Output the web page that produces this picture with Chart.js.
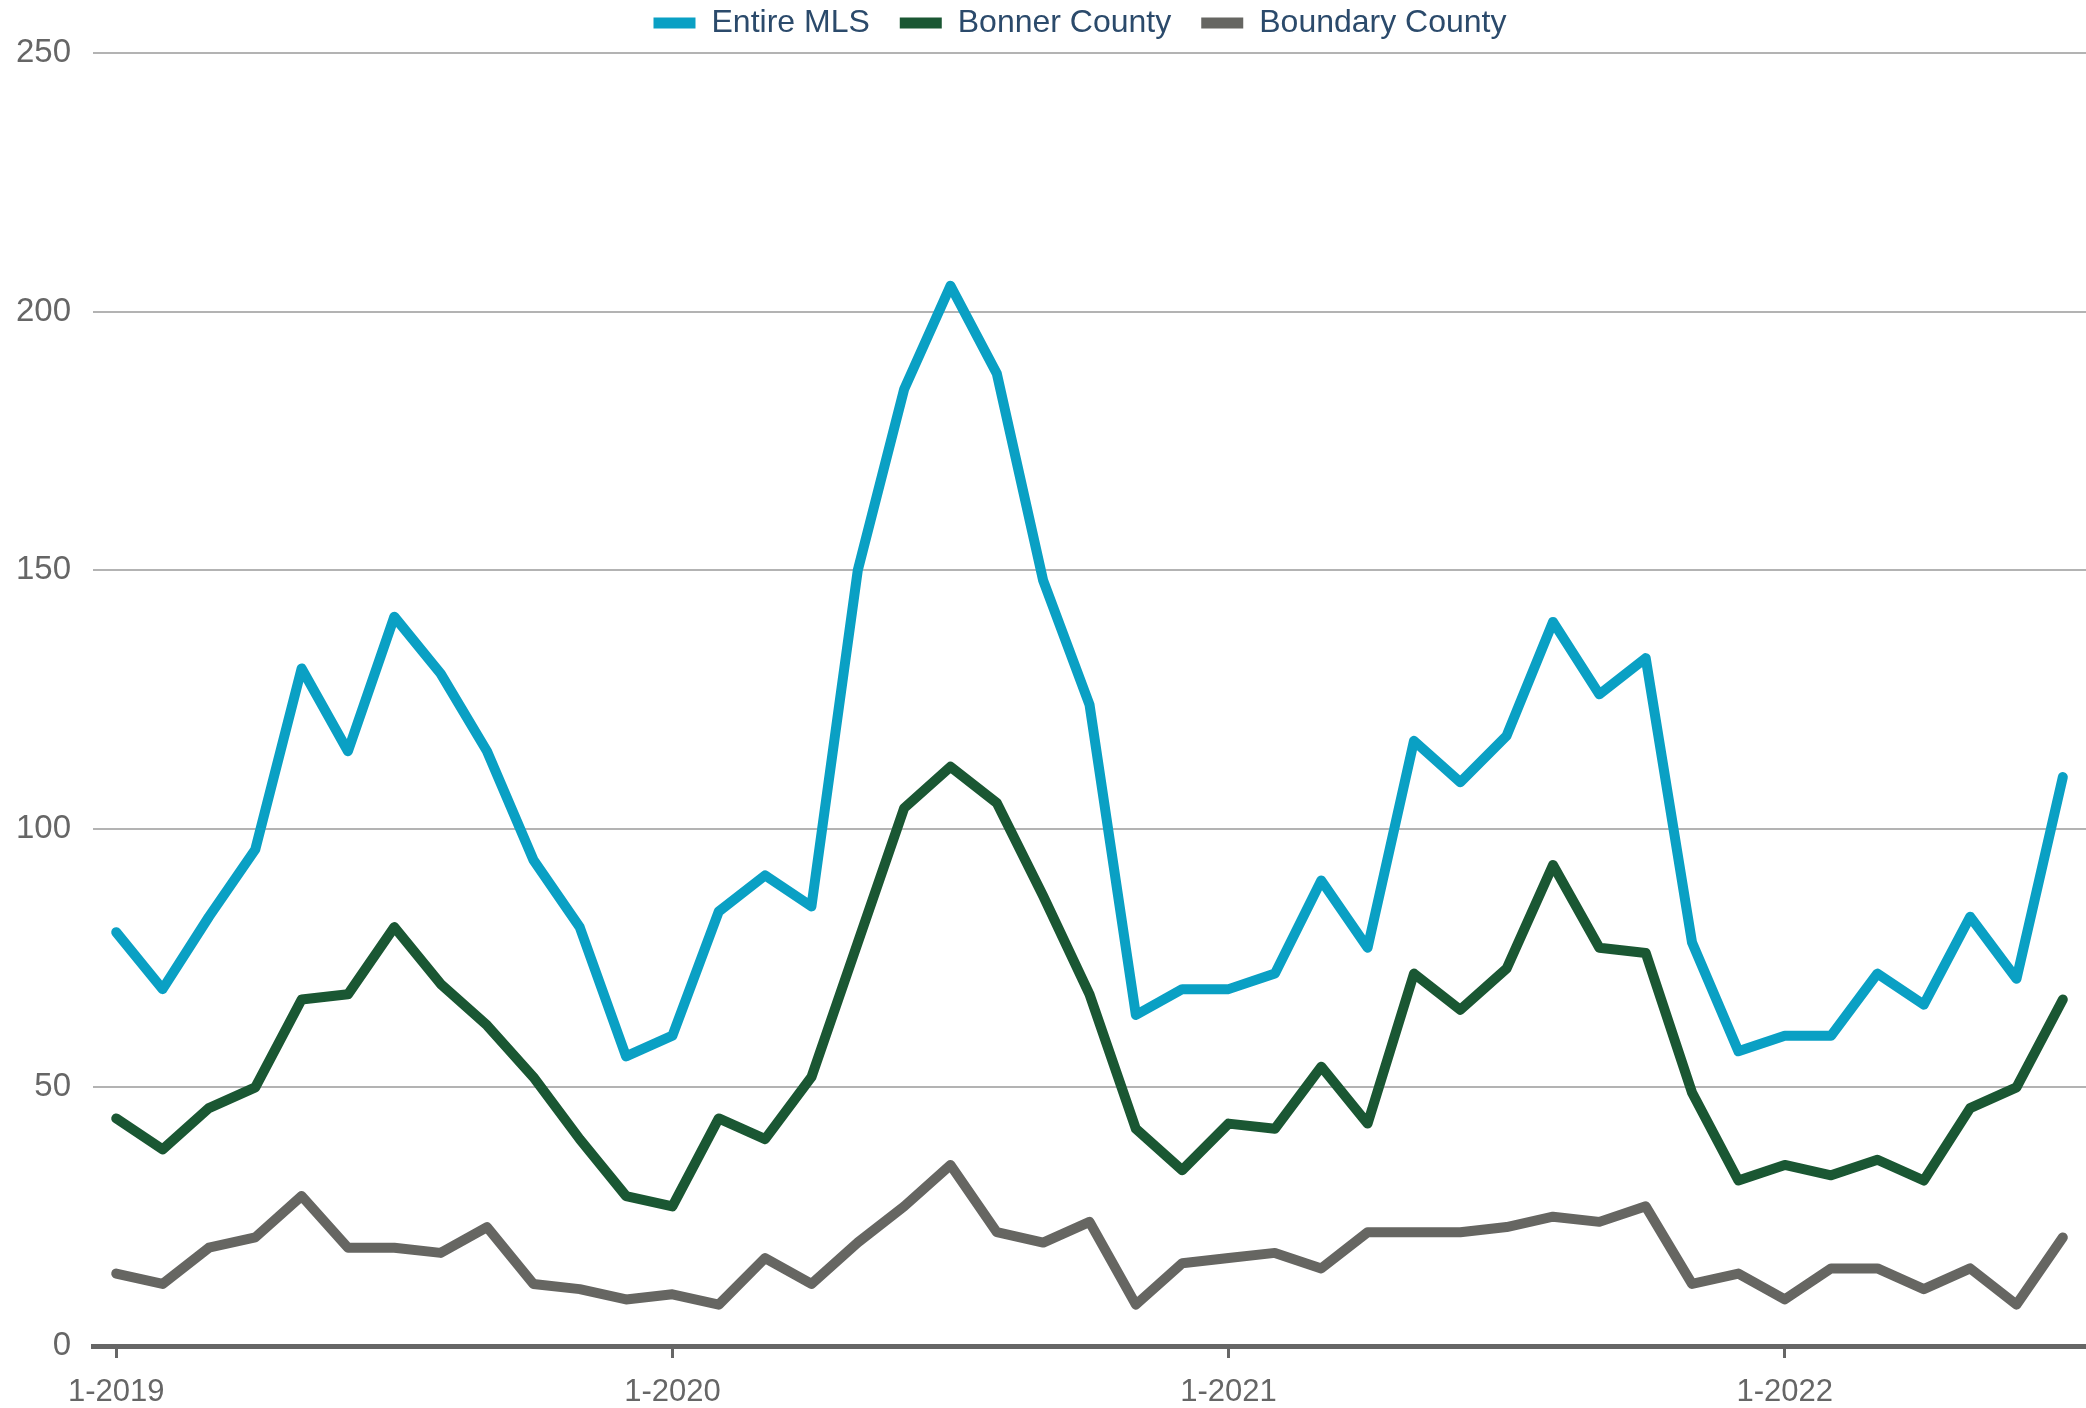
<!DOCTYPE html>
<html>
<head>
<meta charset="utf-8">
<script src="https://cdn.jsdelivr.net/npm/chart.js@4"></script>
<style>
  html, body { margin: 0; padding: 0; background: #fff; }
  #wrap { width: 2086px; height: 1408px; }
</style>
</head>
<body>
<div id="wrap"><canvas id="lineChart" width="2086" height="1408"></canvas></div>
<script>
// months Jan 2019 .. Jul 2022
var months = [];
for (var y = 2019; y <= 2022; y++) {
    for (var m = 1; m <= 12; m++) {
        if (y === 2022 && m > 7) break;
        months.push(m + '-' + y);
    }
}

var entireMLS = [80, 69, 83, 96, 131, 115, 141, 130, 115, 94, 81, 56,
                 60, 84, 91, 85, 150, 185, 205, 188, 148, 124, 64, 69,
                 69, 72, 90, 77, 117, 109, 118, 140, 126, 133, 78, 57,
                 60, 60, 72, 66, 83, 71, 110];
var bonnerCounty = [44, 38, 46, 50, 67, 68, 81, 70, 62, 52, 40, 29,
                    27, 44, 40, 52, 78, 104, 112, 105, 87, 68, 42, 34,
                    43, 42, 54, 43, 72, 65, 73, 93, 77, 76, 49, 32,
                    35, 33, 36, 32, 46, 50, 67];
var boundaryCounty = [14, 12, 19, 21, 29, 19, 19, 18, 23, 12, 11, 9,
                      10, 8, 17, 12, 20, 27, 35, 22, 20, 24, 8, 16,
                      17, 18, 15, 22, 22, 22, 23, 25, 24, 27, 12, 14,
                      9, 15, 15, 11, 15, 8, 21];

var yTicks = [0, 50, 100, 150, 200, 250];

var font = 'Liberation Sans, Arial, sans-serif';
var greyText = '#666666';

function series(label, values, color) {
    return {
        label: label,
        data: values,
        borderColor: color,
        backgroundColor: color,
        borderWidth: 10,
        borderJoinStyle: 'round',
        borderCapStyle: 'round',
        pointRadius: 0,
        tension: 0,
        fill: false
    };
}

// fixed legend height, and legend nudged right so it sits over the plot
var legendTweak = {
    id: 'legendTweak',
    afterInit: function(chart) {
        var lg = chart.legend;
        if (!lg) return;
        var fit = lg.fit;
        lg.fit = function() {
            fit.call(this);
            this.height = 76;
        };
        var draw = lg.draw;
        lg.draw = function() {
            var ctx = this.ctx;
            ctx.save();
            ctx.translate(40, 0);
            draw.apply(this, arguments);
            ctx.restore();
        };
    }
};

new Chart(document.getElementById('lineChart'), {
    type: 'line',
    data: {
        labels: months,
        datasets: [
            series('Entire MLS', entireMLS, '#0aa0c4'),
            series('Bonner County', bonnerCounty, '#1a5733'),
            series('Boundary County', boundaryCounty, '#666662')
        ]
    },
    plugins: [legendTweak],
    options: {
        responsive: false,
        animation: false,
        layout: { padding: { left: -6, right: 0, top: -23, bottom: -19 } },
        plugins: {
            tooltip: { enabled: false },
            legend: {
                position: 'top',
                align: 'center',
                labels: {
                    boxWidth: 42,
                    boxHeight: 11,
                    padding: 30,
                    color: '#2b4a6b',
                    font: { family: font, size: 32 },
                    generateLabels: function(chart) {
                        return Chart.defaults.plugins.legend.labels.generateLabels(chart).map(function(l) {
                            l.lineWidth = 0;
                            return l;
                        });
                    }
                }
            }
        },
        scales: {
            x: {
                offset: true,
                grid: {
                    offset: false,
                    drawOnChartArea: false,
                    drawTicks: true,
                    tickLength: 12,
                    lineWidth: 3,
                    color: function(ctx) {
                        if (ctx.tick && String(ctx.tick.label).indexOf('1-') === 0) return '#666666';
                        return 'rgba(0,0,0,0)';
                    }
                },
                border: { display: true, color: '#666666', width: 5 },
                ticks: {
                    autoSkip: false,
                    maxRotation: 0,
                    padding: 19,
                    color: greyText,
                    font: { family: font, size: 31, lineHeight: 1 },
                    callback: function(v, i) {
                        return months[i].indexOf('1-') === 0 ? months[i] : '';
                    }
                }
            },
            y: {
                min: yTicks[0],
                max: yTicks[yTicks.length - 1],
                grid: { color: '#b3b3b3', lineWidth: 2, drawTicks: false },
                border: { display: false },
                afterBuildTicks: function(axis) {
                    axis.ticks = yTicks.map(function(v) { return { value: v }; });
                },
                ticks: {
                    padding: 22,
                    color: greyText,
                    font: { family: font, size: 33 }
                }
            }
        }
    }
});
</script>
</body>
</html>
